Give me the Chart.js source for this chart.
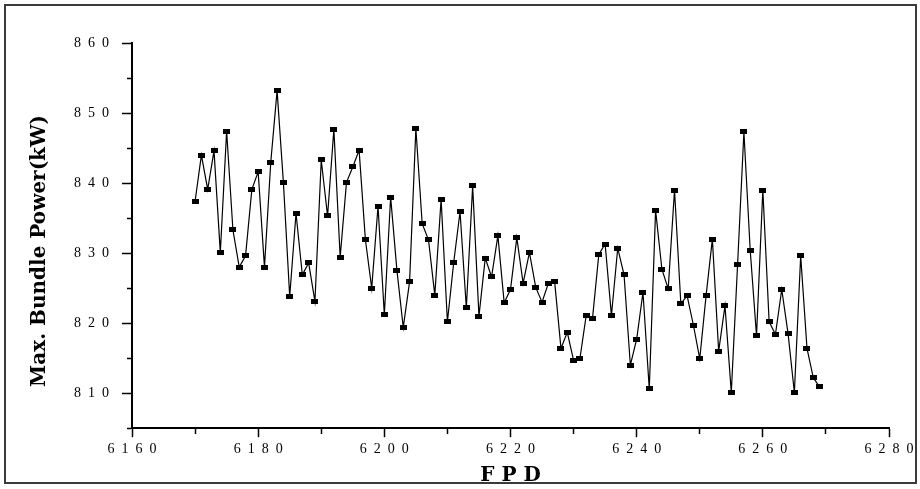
<!DOCTYPE html>
<html>
<head>
<meta charset="utf-8">
<script src="https://cdn.jsdelivr.net/npm/chart.js@4.4.0/dist/chart.umd.min.js"></script>
<style>
  html, body { margin: 0; padding: 0; background: #fff; }
  #wrap { width: 920px; height: 489px; position: relative; }
</style>
</head>
<body>
<div id="wrap"><canvas id="chart" width="920" height="489"></canvas></div>
<script>
// Full-power days
const fpd = [
  6170, 6171, 6172, 6173, 6174, 6175, 6176, 6177, 6178, 6179,
  6180, 6181, 6182, 6183, 6184, 6185, 6186, 6187, 6188, 6189,
  6190, 6191, 6192, 6193, 6194, 6195, 6196, 6197, 6198, 6199,
  6200, 6201, 6202, 6203, 6204, 6205, 6206, 6207, 6208, 6209,
  6210, 6211, 6212, 6213, 6214, 6215, 6216, 6217, 6218, 6219,
  6220, 6221, 6222, 6223, 6224, 6225, 6226, 6227, 6228, 6229,
  6230, 6231, 6232, 6233, 6234, 6235, 6236, 6237, 6238, 6239,
  6240, 6241, 6242, 6243, 6244, 6245, 6246, 6247, 6248, 6249,
  6250, 6251, 6252, 6253, 6254, 6255, 6256, 6257, 6258, 6259,
  6260, 6261, 6262, 6263, 6264, 6265, 6266, 6267, 6268, 6269
];

// Maximum bundle power (kW)
const maxBundlePower = [
  837.4, 844.0, 839.1, 844.6, 830.1, 847.4, 833.3, 828.0, 829.6, 839.1,
  841.6, 828.0, 843.0, 853.2, 840.1, 823.8, 835.7, 826.9, 828.6, 823.1,
  843.3, 835.3, 847.7, 829.4, 840.1, 842.3, 844.7, 831.9, 825.0, 836.7,
  821.2, 838.0, 827.5, 819.4, 825.9, 847.8, 834.2, 831.9, 824.0, 837.7,
  820.2, 828.7, 835.9, 822.2, 839.6, 821.0, 829.3, 826.6, 832.5, 822.9,
  824.8, 832.2, 825.7, 830.1, 825.1, 823.0, 825.7, 825.9, 816.4, 818.7,
  814.7, 814.9, 821.1, 820.7, 829.8, 831.3, 821.1, 830.7, 826.9, 814.0,
  817.7, 824.4, 810.6, 836.1, 827.7, 824.9, 839.0, 822.8, 823.9, 819.7,
  814.9, 823.9, 832.0, 816.0, 822.5, 810.1, 828.4, 847.3, 830.4, 818.2,
  839.0, 820.2, 818.4, 824.8, 818.5, 810.1, 829.6, 816.4, 812.2, 810.9
];

// Labelled (major) tick values
const xTickLabels = [6160, 6180, 6200, 6220, 6240, 6260, 6280];
const yTickLabels = [810, 820, 830, 840, 850, 860];

// Spread the digits of a tick label apart
const spaced = v => String(v).split('').join('\u2002');

// Small filled rectangle used as the point marker
const marker = document.createElement('canvas');
marker.width = 7;
marker.height = 5;
const mctx = marker.getContext('2d');
mctx.fillStyle = '#000';
mctx.fillRect(0, 0, 7, 5);

const SERIF = '"Liberation Serif", "Times New Roman", serif';
const TITLE_FONT = '"DejaVu Serif", serif';

// Outer frame and rotated y-axis title
const framePlugin = {
  id: 'frame',
  afterDraw(chart) {
    const ctx = chart.ctx;
    ctx.save();
    ctx.strokeStyle = '#3a3a3a';
    ctx.lineWidth = 2;
    ctx.strokeRect(5, 5, 911, 478);

    ctx.translate(40, 251);
    ctx.rotate(-Math.PI / 2);
    ctx.fillStyle = '#000';
    ctx.font = 'bold 20px ' + TITLE_FONT;
    ctx.textAlign = 'center';
    ctx.textBaseline = 'middle';
    ctx.fillText('Max. Bundle Power(kW)', 0, 0);
    ctx.restore();
  }
};

new Chart(document.getElementById('chart'), {
  type: 'line',
  data: {
    datasets: [{
      data: fpd.map((x, i) => ({ x, y: maxBundlePower[i] })),
      borderColor: '#000',
      borderWidth: 1.2,
      tension: 0,
      fill: false,
      pointStyle: marker,
      pointBackgroundColor: '#000',
      pointBorderColor: '#000'
    }]
  },
  options: {
    responsive: false,
    animation: false,
    devicePixelRatio: 1,
    layout: { padding: { left: 61, top: 43, right: 31, bottom: 0 } },
    plugins: {
      legend: { display: false },
      tooltip: { enabled: false }
    },
    scales: {
      x: {
        type: 'linear',
        min: 6160,
        max: 6280,
        border: { display: true, color: '#000', width: 2 },
        grid: {
          drawOnChartArea: false,
          drawTicks: true,
          tickLength: 9,
          tickWidth: 1.5,
          tickColor: '#000',
          tickBorderDash: c => (xTickLabels.includes(c.tick.value) ? [] : [5, 20])
        },
        ticks: {
          stepSize: 10,
          autoSkip: false,
          maxRotation: 0,
          padding: 4,
          color: '#000',
          font: { family: SERIF, size: 14 },
          callback: v => (xTickLabels.includes(v) ? spaced(v) : '')
        },
        title: {
          display: true,
          text: 'F P D',
          color: '#000',
          font: { family: TITLE_FONT, size: 20, weight: 'bold' },
          padding: { top: 2, bottom: 1 }
        }
      },
      y: {
        type: 'linear',
        min: 805,
        max: 860,
        border: { display: true, color: '#000', width: 2 },
        grid: {
          drawOnChartArea: false,
          drawTicks: true,
          tickLength: 10,
          tickWidth: 1.5,
          tickColor: '#000',
          tickBorderDash: c => (yTickLabels.includes(c.tick.value) ? [] : [5, 5]),
          tickBorderDashOffset: c => (yTickLabels.includes(c.tick.value) ? 0 : 5)
        },
        ticks: {
          stepSize: 5,
          autoSkip: false,
          padding: 13,
          color: '#000',
          font: { family: SERIF, size: 14 },
          callback: v => (yTickLabels.includes(v) ? spaced(v) : '')
        },
        title: { display: false }
      }
    }
  },
  plugins: [framePlugin]
});
</script>
</body>
</html>
